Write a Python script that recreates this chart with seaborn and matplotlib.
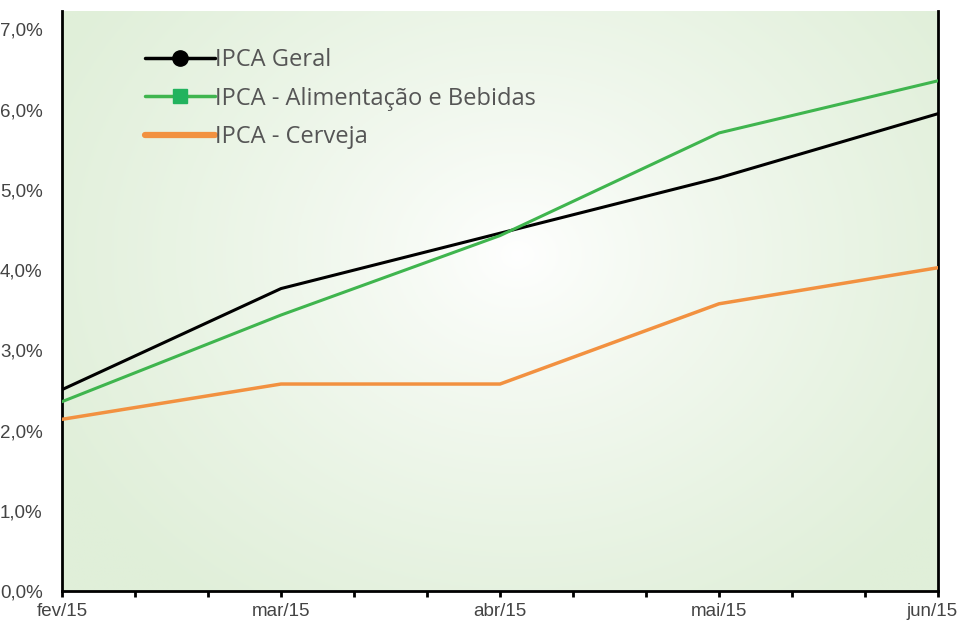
import numpy as np
import pandas as pd
import seaborn as sns
import matplotlib.pyplot as plt
import matplotlib.transforms as mtransforms
from matplotlib.lines import Line2D
from matplotlib.ticker import FixedLocator, FuncFormatter

# Data (accumulated IPCA, %)
meses = ['fev/15', 'mar/15', 'abr/15', 'mai/15', 'jun/15']
ipca_geral = [2.51, 3.77, 4.46, 5.15, 5.95]
ipca_alimentacao = [2.36, 3.44, 4.43, 5.71, 6.36]
ipca_cerveja = [2.14, 2.58, 2.58, 3.58, 4.03]

series_names = ['IPCA Geral', 'IPCA - Alimentação e Bebidas', 'IPCA - Cerveja']
colors = ['#000000', '#3fb54e', '#f29140']

df = pd.DataFrame({
    'pos': list(range(len(meses))) * 3,
    'valor': ipca_geral + ipca_alimentacao + ipca_cerveja,
    'serie': [s for s in series_names for _ in meses],
})

sns.set_theme(style='white')
plt.rcParams['font.family'] = ['Liberation Sans', 'DejaVu Sans']

fig = plt.figure(figsize=(9.6, 6.21), dpi=100)
ax = fig.add_axes([62 / 960, 1 - 591 / 621, 876 / 960, 580 / 621])

# radial gradient background (white centre, pale green edges)
gx, gy = np.meshgrid(np.linspace(0, 1, 300), np.linspace(0, 1, 200))
r = np.sqrt(((gx - 0.52) / 0.6) ** 2 + ((gy - 0.58) / 0.75) ** 2)
t = np.clip(r, 0, 1) ** 0.8
white = np.array([1.0, 1.0, 1.0])
green = np.array([224, 239, 217]) / 255
img = white[None, None, :] * (1 - t[..., None]) + green[None, None, :] * t[..., None]
ax.imshow(img, extent=[0, 1, 0, 1], transform=ax.transAxes, origin='lower',
          aspect='auto', zorder=0)

sns.lineplot(data=df, x='pos', y='valor', hue='serie', palette=colors,
             hue_order=series_names, linewidth=2.2, legend=False, ax=ax, zorder=3)
ax.lines[-1].set_linewidth(2.5)

ax.set_xlim(0, 4)
ax.set_ylim(0, 7.23)
ax.set_xlabel('')
ax.set_ylabel('')

ax.set_xticks(range(len(meses)))
ax.set_xticklabels(meses)
ax.xaxis.set_minor_locator(FixedLocator([i / 3 for i in range(13) if i % 3 != 0]))
ax.set_yticks(np.arange(0, 7.01, 1))
ax.yaxis.set_major_formatter(FuncFormatter(lambda v, p: f'{v:.1f}%'.replace('.', ',')))

ax.tick_params(axis='x', which='both', direction='out', length=4, width=2,
               color='black', bottom=True, labelsize=13.5, labelcolor='#444444', pad=5)
ax.tick_params(axis='y', which='both', left=False, labelsize=13.5, labelcolor='#444444', pad=8)

# nudge the last month label so it stays inside the figure
last = ax.get_xticklabels()[-1]
last.set_transform(last.get_transform() + mtransforms.ScaledTranslation(-6 / 100, 0, fig.dpi_scale_trans))

for side in ['left', 'right', 'bottom']:
    ax.spines[side].set_visible(True)
    ax.spines[side].set_color('black')
    ax.spines[side].set_linewidth(2)
ax.spines['top'].set_visible(False)

handles = [
    Line2D([], [], color='#000000', lw=2.5, marker='o', markersize=11),
    Line2D([], [], color='#3fb54e', lw=2.5, marker='s', markersize=10,
           markerfacecolor='#22b35e', markeredgecolor='#22b35e'),
    Line2D([], [], color='#f29140', lw=4.5),
]
leg = ax.legend(handles, series_names, loc='upper left', bbox_to_anchor=(0.07, 0.972),
                frameon=False, handlelength=3.0, handletextpad=0.0, labelspacing=0.6,
                prop={'family': 'Open Sans', 'size': 17})
for txt in leg.get_texts():
    txt.set_color('#555555')

fig.savefig('out.png', dpi=100)
